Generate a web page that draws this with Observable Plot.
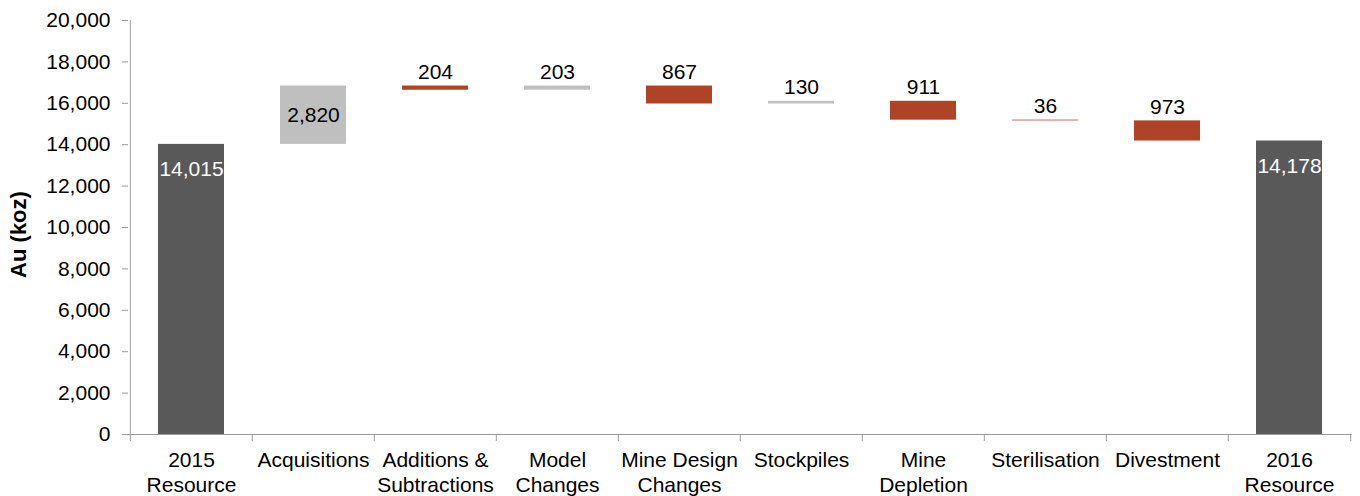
<!DOCTYPE html>
<html>
<head>
<meta charset="utf-8">
<script src="https://cdn.jsdelivr.net/npm/d3@7"></script>
<script src="https://cdn.jsdelivr.net/npm/@observablehq/plot@0.6"></script>
<style>
  html, body { margin: 0; padding: 0; background: #fff; }
  #chart svg { display: block; }
</style>
</head>
<body>
<div id="chart"></div>
<script>
// ---- data ----
const categories = ["2015\nResource", "Acquisitions", "Additions &\nSubtractions", "Model\nChanges", "Mine Design\nChanges", "Stockpiles", "Mine\nDepletion", "Sterilisation", "Divestment", "2016\nResource"];
const values = [14015, 2820, -204, 203, -867, 130, -911, -36, -973, 14178];
const kinds = ["total", "up", "down", "up", "down", "up", "down", "down", "down", "total"];
const yTicks = [0, 2000, 4000, 6000, 8000, 10000, 12000, 14000, 16000, 18000, 20000];
const kindDomain = ["total", "up", "down"];
const kindColors = ["#595959", "#BFBFBF", "#AE4325"];

// ---- waterfall rows ----
let running = 0;
const rows = categories.map((cat, i) => {
  const v = values[i];
  let y1, y2;
  if (kinds[i] === "total") { y1 = 0; y2 = v; running = v; }
  else { y1 = running; y2 = running + v; running = y2; }
  return { cat, kind: kinds[i], y1, y2, top: Math.max(y1, y2), mid: (y1 + y2) / 2, label: d3.format(",")(Math.abs(v)), big: Math.abs(v) > 2000 };
});

const W = 1360, H = 496, ML = 128, MR = 8, MT = 20, MB = 62;
const step = (W - ML - MR) / categories.length;
const axisColor = "#9a9a9a";
const font = "'Liberation Sans', Arial, sans-serif";
const FS = 21;

const chart = Plot.plot({
  width: W, height: H,
  marginLeft: ML, marginRight: MR, marginTop: MT, marginBottom: MB,
  style: { fontFamily: font, fontSize: FS + "px", color: "#000", background: "#fff", overflow: "visible" },
  x: { domain: categories, paddingInner: 0.46, paddingOuter: 0.23, label: null },
  y: { domain: [0, 20000], label: null },
  color: { domain: kindDomain, range: kindColors },
  marks: [
    Plot.barY(rows, { x: "cat", y1: "y1", y2: "y2", fill: "kind" }),
    Plot.axisY(yTicks, { tickSize: 6, tickPadding: 12, tickFormat: d3.format(","), stroke: axisColor, fill: "#000", fontSize: FS, label: null }),
    Plot.ruleX([categories[0]], { dx: -step / 2, y1: 0, y2: 20000, stroke: axisColor }),
    Plot.ruleY([0], { stroke: axisColor }),
    Plot.axisX({ tickSize: 0, tickPadding: 14, lineHeight: 1.22, fontSize: FS, fill: "#000", label: null }),
    Plot.axisX(categories, { tickSize: 7, tickFormat: () => "", dx: -step / 2, stroke: axisColor, label: null }),
    Plot.axisX([categories[categories.length - 1]], { tickSize: 7, tickFormat: () => "", dx: step / 2, stroke: axisColor, label: null }),
    // labels
    Plot.text(rows.filter(d => d.kind === "total"), { x: "cat", y: "top", text: "label", dy: 25, fill: "#fff", fontSize: FS }),
    Plot.text(rows.filter(d => d.kind !== "total" && d.big), { x: "cat", y: "mid", text: "label", fill: "#000", fontSize: FS }),
    Plot.text(rows.filter(d => d.kind !== "total" && !d.big), { x: "cat", y: "top", text: "label", dy: -14, fill: "#000", fontSize: FS }),
    // y title
    Plot.text(["Au (koz)"], { frameAnchor: "left", textAnchor: "middle", dx: -110, dy: 7, rotate: -90, text: d => d, fontWeight: "bold", fontSize: 22, fill: "#000" })
  ]
});
document.getElementById("chart").appendChild(chart);
</script>
</body>
</html>
